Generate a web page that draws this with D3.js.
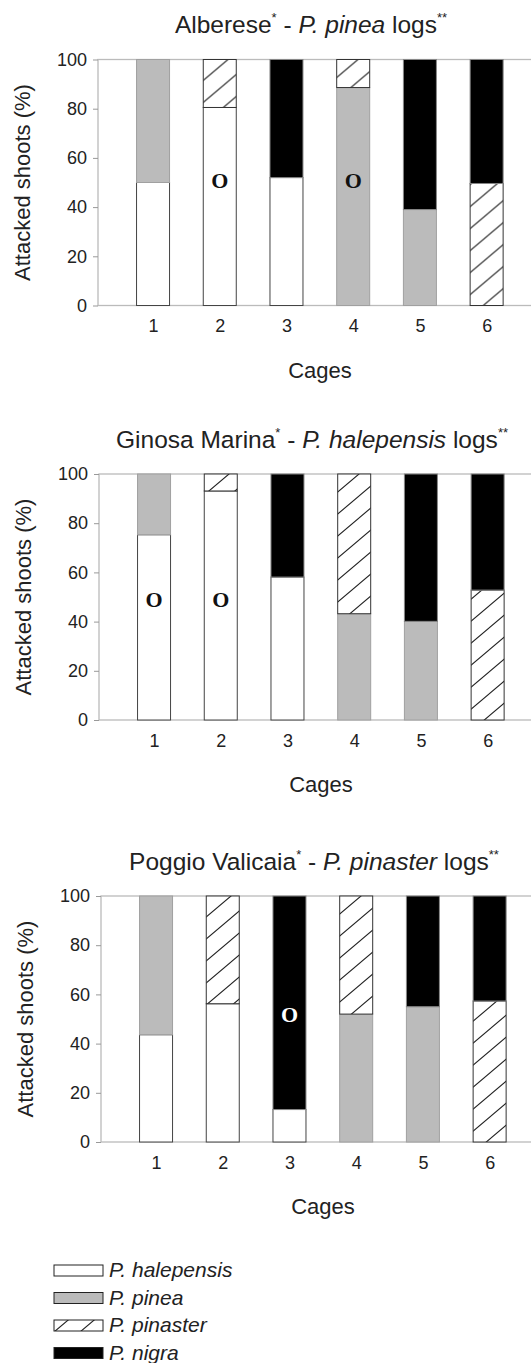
<!DOCTYPE html>
<html>
<head>
<meta charset="utf-8">
<script src="https://cdn.jsdelivr.net/npm/d3@7"></script>
<style>
  body { margin: 0; background: #fff; }
  svg { display: block; font-family: "Liberation Sans", Arial, sans-serif; }
</style>
</head>
<body>
<div class="chart"></div>
<script>
// species in stacking order (bottom -> top)
const species = ["P. halepensis", "P. pinea", "P. pinaster", "P. nigra"]
const cages = [1, 2, 3, 4, 5, 6]
const yTicks = [0, 20, 40, 60, 80, 100]

// % attacked shoots per cage, columns follow species order
const alberese = [
  [50, 50, 0, 0],
  [80.5, 0, 19.5, 0],
  [52, 0, 0, 48],
  [0, 88.6, 11.4, 0],
  [0, 39, 0, 61],
  [0, 0, 49.6, 50.4]
]
const ginosa = [
  [75.3, 24.7, 0, 0],
  [93.1, 0, 6.9, 0],
  [58.1, 0, 0, 41.9],
  [0, 43.2, 56.8, 0],
  [0, 40.1, 0, 59.9],
  [0, 0, 52.8, 47.2]
]
const poggio = [
  [43.6, 56.4, 0, 0],
  [56.2, 0, 43.8, 0],
  [13.2, 0, 0, 86.8],
  [0, 52, 48, 0],
  [0, 55, 0, 45],
  [0, 0, 57.3, 42.7]
]

// "O" marks: [cage, height %]
const albereseMarks = [[2, 51], [4, 51]]
const ginosaMarks = [[1, 49], [2, 49]]
const poggioMarks = [[3, 52]]

const panels = [
  { site: "Alberese", pine: "P. pinea", data: alberese, marks: albereseMarks, top: 59.5, left: 98 },
  { site: "Ginosa Marina", pine: "P. halepensis", data: ginosa, marks: ginosaMarks, top: 474, left: 99 },
  { site: "Poggio Valicaia", pine: "P. pinaster", data: poggio, marks: poggioMarks, top: 896, left: 101 }
]

const W = 531, H = 1363
const plotW = 444, plotH = 246
const barW = 33
const txt = "#222"

const fills = ["#ffffff", "#bbbbbb", "url(#hatch)", "#000000"]
const strokes = ["#444", "#a0a0a0", "#333", "#888"]

const svg = d3.select(".chart").append("svg")
  .attr("width", W).attr("height", H)

// diagonal hatch
const pat = svg.append("defs").append("pattern")
  .attr("id", "hatch")
  .attr("patternUnits", "userSpaceOnUse")
  .attr("width", 26).attr("height", 22)
pat.append("rect").attr("width", 26).attr("height", 22).attr("fill", "#fff")
pat.append("path")
  .attr("d", "M0,22L26,0M-2,2L2,-2M24,24L28,20")
  .attr("stroke", "#222").attr("stroke-width", 1.1)

const xScale = d3.scaleLinear().domain([0.175, 6.83]).range([0, plotW])
const yScale = d3.scaleLinear().domain([0, 100]).range([plotH, 0])

const stack = d3.stack().keys(d3.range(species.length)).value((d, k) => d[k])

panels.forEach(p => {
  const g = svg.append("g").attr("transform", `translate(${p.left},${p.top})`)

  // title
  const t = g.append("text")
    .attr("x", plotW / 2 - 9).attr("y", -26.5)
    .attr("text-anchor", "middle")
    .attr("font-size", 24.5).attr("fill", txt)
  t.append("tspan").text(p.site)
  t.append("tspan").text("*").attr("font-size", 13).attr("dy", -11)
  t.append("tspan").text(" - ").attr("dy", 11)
  t.append("tspan").text(p.pine).attr("font-style", "italic")
  t.append("tspan").text(" logs")
  t.append("tspan").text("**").attr("font-size", 13).attr("dy", -11)

  // frame
  g.append("rect")
    .attr("x", 0).attr("y", 0)
    .attr("width", plotW).attr("height", plotH)
    .attr("fill", "none").attr("stroke", "#bbb").attr("stroke-width", 1.3)

  // stacked bars
  const series = stack(p.data)
  series.forEach((s, k) => {
    g.selectAll(null)
      .data(s.map((d, i) => ({ d, i })).filter(o => o.d[1] - o.d[0] > 0))
      .enter()
      .append("rect")
      .attr("x", o => xScale(cages[o.i]) - barW / 2)
      .attr("width", barW)
      .attr("y", o => yScale(o.d[1]))
      .attr("height", o => yScale(o.d[0]) - yScale(o.d[1]))
      .attr("fill", fills[k])
      .attr("stroke", strokes[k])
      .attr("stroke-width", 1)
  })

  // "O" marks
  g.selectAll(null)
    .data(p.marks)
    .enter()
    .append("text")
    .attr("x", d => xScale(d[0]))
    .attr("y", d => yScale(d[1]))
    .attr("dy", "0.35em")
    .attr("text-anchor", "middle")
    .attr("font-family", "Liberation Serif, serif")
    .attr("font-weight", "bold")
    .attr("font-size", 22)
    .attr("fill", d => {
      const row = p.data[d[0] - 1]
      let acc = 0, k = 0
      for (; k < row.length; k++) { acc += row[k]; if (acc >= d[1]) break }
      return k === 3 ? "#fff" : "#111"
    })
    .text("O")

  // y axis
  const yAxis = d3.axisLeft(yScale).tickValues(yTicks).tickSize(5).tickPadding(6)
  const ya = g.append("g").call(yAxis)
  ya.select(".domain").remove()
  ya.selectAll("line").attr("stroke", "#999")
  ya.selectAll("text").attr("font-size", 18).attr("fill", txt)
    .attr("font-family", "Liberation Sans, Arial, sans-serif")

  // x labels
  const xAxis = d3.axisBottom(xScale).tickValues(cages).tickFormat(d3.format("d"))
    .tickSize(0).tickPadding(14)
  const xa = g.append("g").attr("transform", `translate(0,${plotH})`).call(xAxis)
  xa.select(".domain").remove()
  xa.selectAll("text").attr("font-size", 18).attr("fill", txt)
    .attr("font-family", "Liberation Sans, Arial, sans-serif")

  // axis titles
  g.append("text")
    .attr("x", plotW / 2).attr("y", plotH + 72)
    .attr("text-anchor", "middle")
    .attr("font-size", 22).attr("fill", txt)
    .text("Cages")

  g.append("text")
    .attr("transform", `translate(-68.5,${plotH / 2}) rotate(-90)`)
    .attr("text-anchor", "middle")
    .attr("font-size", 22).attr("fill", txt)
    .text("Attacked shoots (%)")
})

// legend
const legend = svg.append("g").attr("transform", "translate(54,1277)")
species.forEach((s, k) => {
  const row = legend.append("g").attr("transform", `translate(0,${k * 27.5})`)
  row.append("rect")
    .attr("x", 0).attr("y", -12)
    .attr("width", 49).attr("height", 11)
    .attr("fill", fills[k]).attr("stroke", "#222").attr("stroke-width", 1)
  row.append("text")
    .attr("x", 55).attr("y", 0)
    .attr("font-size", 21).attr("font-style", "italic").attr("fill", txt)
    .text(s)
})
</script>
</body>
</html>
